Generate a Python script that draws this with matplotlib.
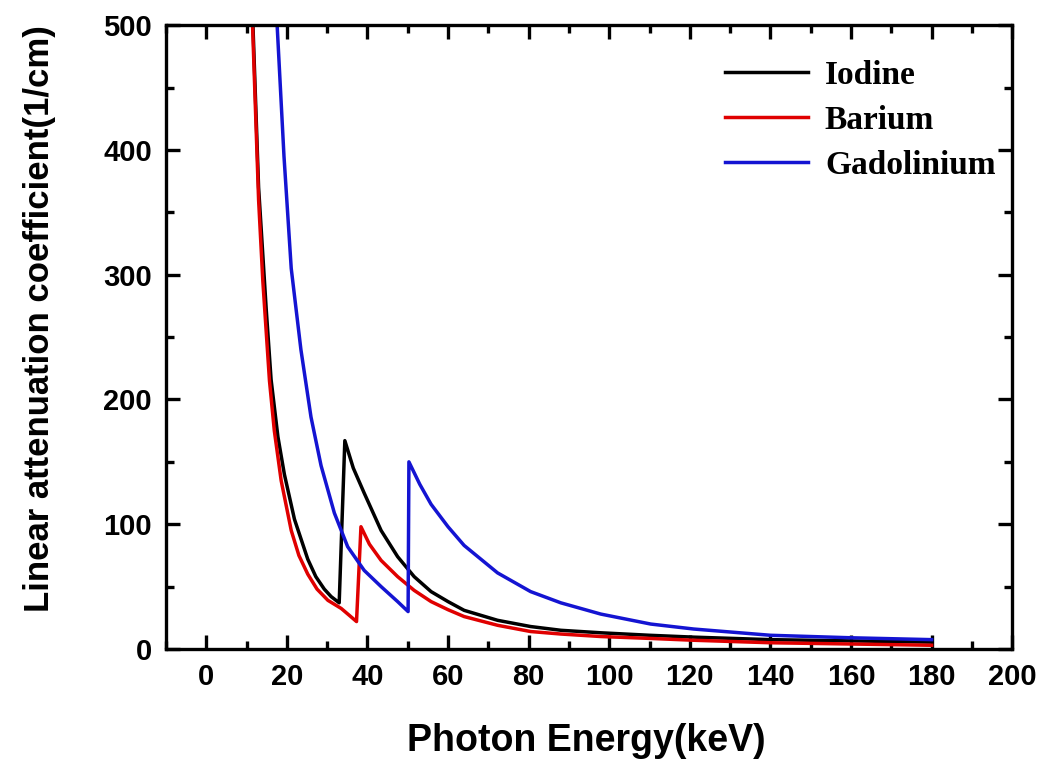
import matplotlib
matplotlib.use("Agg")
import matplotlib.pyplot as plt
from matplotlib.ticker import MultipleLocator

# values (keV, 1/cm)
iodine_e = [10, 11.6, 13, 14.9, 16.1, 17.8, 19.4, 21.9, 25.2, 27.2, 29.3, 31, 33.0,
            34.4, 36.5, 39.2, 43.4, 47.5, 51.6, 55.8, 60, 64, 72.3, 80.5, 88, 97.9,
            110, 121, 140, 160, 180]
iodine_mu = [730, 500, 370, 272, 216, 170, 140, 104, 72, 58, 48, 42, 37,
             167, 145, 125, 95, 74, 58, 46, 38, 31, 23, 18, 15, 13,
             11, 9.5, 7.5, 6.5, 5.5]

barium_e = [10, 11.5, 13, 14.05, 15.7, 16.9, 18.6, 21.1, 23, 25.2, 27.5, 30.2, 33.5, 35.5, 37.3,
            38.4, 40.5, 43.4, 47.5, 51.6, 55.8, 60, 64, 72.3, 80.5, 88, 97.9,
            110, 121, 140, 160, 180]
barium_mu = [720, 500, 360, 295, 215, 175, 135, 95, 75, 60, 48, 39, 32.5, 27, 22,
             98, 84, 71, 58, 47, 38, 31.5, 26, 19, 14, 12, 10,
             8.5, 7, 5, 4, 3]

gadolinium_e = [15, 17.6, 19.3, 21.1, 23.5, 26, 28.5, 31.8, 35.1, 39.2, 43.4,
                47.5, 50.1, 50.3, 53, 55.8, 60, 64, 72.3, 80.5, 88, 97.9, 110.3, 121,
                140, 160, 180]
gadolinium_mu = [780, 500, 395, 305, 240, 186, 147, 109, 82, 63, 50,
                 38, 30, 150, 132, 116, 98, 83, 61, 46, 37, 28, 20, 16,
                 11, 9, 7.5]

series = [
    ("Iodine", iodine_e, iodine_mu, "black"),
    ("Barium", barium_e, barium_mu, "#e00000"),
    ("Gadolinium", gadolinium_e, gadolinium_mu, "#1414d2"),
]

fig = plt.figure(figsize=(10.5, 7.74), dpi=100)
ax = fig.add_axes([0.158, 0.1615, 0.806, 0.806])

for name, e, mu, col in series:
    ax.plot(e, mu, color=col, lw=2.5, label=name)

ax.set_xlim(-10, 200)
ax.set_ylim(0, 500)
ax.xaxis.set_major_locator(MultipleLocator(20))
ax.xaxis.set_minor_locator(MultipleLocator(10))
ax.yaxis.set_major_locator(MultipleLocator(100))
ax.yaxis.set_minor_locator(MultipleLocator(50))

for s in ax.spines.values():
    s.set_linewidth(2.4)
ax.tick_params(which="both", direction="in", top=True, right=True, width=2.4)
ax.tick_params(which="major", length=10, pad=10, labelsize=21)
ax.tick_params(which="minor", length=6)
for lab in ax.get_xticklabels() + ax.get_yticklabels():
    lab.set_fontweight("bold")
    lab.set_family("Liberation Sans")

ax.set_xlabel("Photon Energy(keV)", fontsize=27, fontweight="bold",
              family="Liberation Sans")
ax.set_ylabel("Linear attenuation coefficient(1/cm)", fontsize=25,
              fontweight="bold", family="Liberation Sans")
ax.xaxis.set_label_coords(0.497, -0.118)
ax.yaxis.set_label_coords(-0.13, 0.53)

leg = ax.legend(loc="upper right", frameon=False, handlelength=2.5,
                handletextpad=0.5, labelspacing=0.42, borderaxespad=0.1,
                bbox_to_anchor=(1.0, 0.971),
                prop={"family": "Liberation Serif", "weight": "bold", "size": 24})

fig.savefig("out.png", dpi=100)
